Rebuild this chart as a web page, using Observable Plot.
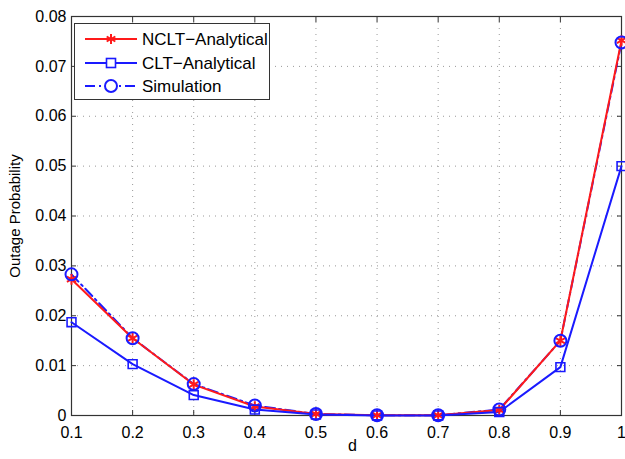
<!DOCTYPE html>
<html>
<head>
<meta charset="utf-8">
<script src="https://cdn.jsdelivr.net/npm/d3@7"></script>
<script src="https://cdn.jsdelivr.net/npm/@observablehq/plot@0.6"></script>
<style>
  body { margin: 0; background: #fff; }
  #wrap { position: relative; width: 625px; height: 459px; font-family: "Liberation Sans", Arial, sans-serif; }
  #legend { position: absolute; left: 74px; top: 23px; width: 194px; height: 75px; border: 1px solid #333; background: #fff; }
  #legend svg { display: block; }
</style>
</head>
<body>
<div id="wrap"></div>
<script>
const d = [0.1, 0.2, 0.3, 0.4, 0.5, 0.6, 0.7, 0.8, 0.9, 1.0];
const nclt = [0.0273, 0.0155, 0.0062, 0.0018, 0.0003, 0.00003, 0.00003, 0.0011, 0.0150, 0.0752];
const clt  = [0.0187, 0.0103, 0.0041, 0.0012, 0.0002, 0.00001, 0.00001, 0.0007, 0.0097, 0.0500];
const sim  = [0.0283, 0.0155, 0.0063, 0.0020, 0.0003, 0.00005, 0.00005, 0.0012, 0.0150, 0.0748];
const seriesNames = ["NCLT\u2212Analytical", "CLT\u2212Analytical", "Simulation"];
const xTicks = [0.1, 0.2, 0.3, 0.4, 0.5, 0.6, 0.7, 0.8, 0.9, 1];
const yTicks = [0, 0.01, 0.02, 0.03, 0.04, 0.05, 0.06, 0.07, 0.08];

const rows = (ys) => d.map((x, i) => ({x, y: ys[i]}));
const N = rows(nclt), C = rows(clt), S = rows(sim);

const fmt = (v) => String(v);

const chart = Plot.plot({
  width: 625,
  height: 459,
  marginLeft: 71,
  marginRight: 4,
  marginTop: 16,
  marginBottom: 44,
  style: { fontFamily: "Liberation Sans, Arial, sans-serif", fontSize: "16px", background: "#fff", color: "#000" },
  x: { domain: [0.1, 1] },
  y: { domain: [0, 0.08] },
  marks: [
    Plot.gridX(xTicks.slice(1, -1), { stroke: "#999", strokeOpacity: 1, strokeDasharray: "1,5" }),
    Plot.gridY(yTicks.slice(1, -1), { stroke: "#999", strokeOpacity: 1, strokeDasharray: "1,5" }),
    Plot.axisX(xTicks, { anchor: "bottom", tickSize: -5, tickFormat: fmt, tickPadding: 16, fontSize: 16, label: null, stroke: "#333" }),
    Plot.axisX(xTicks, { anchor: "top", tickSize: -5, label: null, text: null, stroke: "#333" }),
    Plot.axisY(yTicks, { anchor: "left", tickSize: -5, tickFormat: fmt, tickPadding: 10, fontSize: 16, label: null, stroke: "#333" }),
    Plot.axisY(yTicks, { anchor: "right", tickSize: -5, label: null, text: null, stroke: "#333" }),
    Plot.frame({ stroke: "#333", strokeWidth: 1.2 }),
    Plot.line(S, { x: "x", y: "y", stroke: "#1a1aff", strokeWidth: 2, strokeDasharray: "10,4,2,4" }),
    Plot.line(N, { x: "x", y: "y", stroke: "#ff1a1a", strokeWidth: 2 }),
    Plot.line(C, { x: "x", y: "y", stroke: "#1a1aff", strokeWidth: 2 }),
    Plot.dot(N, { x: "x", y: "y", symbol: "asterisk", r: 5, stroke: "#ff1a1a", strokeWidth: 2 }),
    Plot.dot(C, { x: "x", y: "y", symbol: "square", r: 5, stroke: "#1a1aff", fill: "none", strokeWidth: 1.6 }),
    Plot.dot(S, { x: "x", y: "y", symbol: "circle", r: 6, stroke: "#1a1aff", fill: "none", strokeWidth: 2 }),
    Plot.text(["d"], { frameAnchor: "bottom-left", dx: 281, dy: 35, fontSize: 16, textAnchor: "middle" }),
    Plot.text(["Outage Probability"], { frameAnchor: "left", dx: -56, rotate: -90, fontSize: 15, textAnchor: "middle" })
  ]
});

d3.select(chart).selectAll('g[aria-label$="tick label"]').attr("font-size", 16).selectAll("text").attr("font-size", 16);

const wrap = document.getElementById("wrap");
wrap.appendChild(chart);

const legend = document.createElement("div");
legend.id = "legend";
const colors = ["#ff1a1a", "#1a1aff", "#1a1aff"];
const dashes = ["", "", "10,4,2,4"];
const ys = [15, 39, 62];
let svg = `<svg width="194" height="75" xmlns="http://www.w3.org/2000/svg" font-family="Liberation Sans, Arial, sans-serif" font-size="17">`;
seriesNames.forEach((name, i) => {
  const y = ys[i];
  svg += `<line x1="10" x2="62" y1="${y}" y2="${y}" stroke="${colors[i]}" stroke-width="2" ${dashes[i] ? `stroke-dasharray="${dashes[i]}"` : ""}/>`;
  if (i === 0) {
    for (let k = 0; k < 3; k++) {
      const a = Math.PI / 3 * k;
      svg += `<line x1="${36 - 5 * Math.sin(a)}" y1="${y - 5 * Math.cos(a)}" x2="${36 + 5 * Math.sin(a)}" y2="${y + 5 * Math.cos(a)}" stroke="${colors[i]}" stroke-width="2"/>`;
    }
  } else if (i === 1) {
    svg += `<rect x="31.5" y="${y - 4.5}" width="9" height="9" fill="#fff" stroke="${colors[i]}" stroke-width="1.6"/>`;
  } else {
    svg += `<circle cx="36" cy="${y}" r="6" fill="#fff" stroke="${colors[i]}" stroke-width="2"/>`;
  }
  svg += `<text x="67" y="${y + 6}" fill="#000">${name}</text>`;
});
svg += `</svg>`;
legend.innerHTML = svg;
wrap.appendChild(legend);
</script>
</body>
</html>
